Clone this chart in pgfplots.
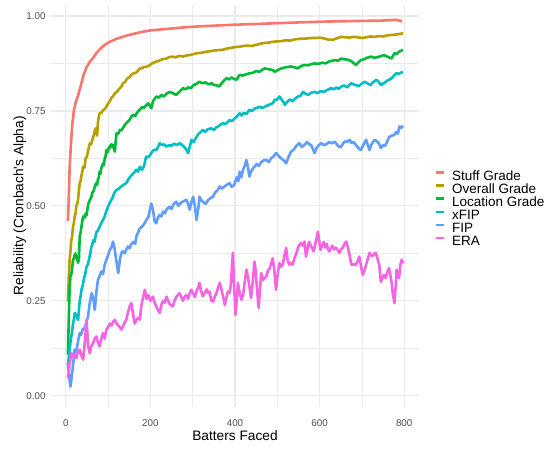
\documentclass[border=0pt]{standalone}
\usepackage{fontspec}
\setmainfont{Liberation Sans}
\usepackage{pgfplots}
\pgfplotsset{compat=1.18}
\definecolor{cStuff}{HTML}{F8766D}
\definecolor{cOver}{HTML}{B79F00}
\definecolor{cLoc}{HTML}{00BA38}
\definecolor{cxfip}{HTML}{00BFC4}
\definecolor{cfip}{HTML}{619CFF}
\definecolor{cera}{HTML}{F564E3}
\definecolor{grid92}{HTML}{EBEBEB}
\definecolor{grey30}{HTML}{4D4D4D}
\begin{document}
\begin{tikzpicture}
\useasboundingbox (0pt,0pt) rectangle (552pt,452pt);
\begin{axis}[
  at={(51pt,44.9pt)}, anchor=south west,
  scale only axis, width=368pt, height=402.5pt,
  xmin=-35, xmax=835, ymin=-0.03, ymax=1.03,
  axis line style={draw=none},
  major tick length=0pt, minor tick length=0pt,
  xtick={0,200,400,600,800}, xticklabels={0,200,400,600,800},
  minor xtick={100,300,500,700},
  ytick={0,0.25,0.5,0.75,1}, yticklabels={0.00,0.25,0.50,0.75,1.00},
  minor ytick={0.125,0.375,0.625,0.875},
  grid=both,
  major grid style={color=grid92, line width=1.2pt},
  minor grid style={color=grid92, line width=0.6pt},
  xticklabel style={anchor=north, inner sep=0pt, yshift=-12.2pt, font=\fontsize{9.8}{11}\selectfont, text=grey30},
  yticklabel style={anchor=east, inner sep=0pt, xshift=-5.3pt, font=\fontsize{9.8}{11}\selectfont, text=grey30},
  xlabel={Batters Faced},
  xlabel style={at={(axis description cs:0.5,-0.0835)}, anchor=base, inner sep=0pt, font=\fontsize{13.7}{15}\selectfont},
  ylabel={Reliability (Cronbach\textquotesingle s Alpha)},
  ylabel style={at={(axis description cs:-0.085,0.5)}, anchor=center, inner sep=0pt, font=\fontsize{13.7}{15}\selectfont},
  every axis plot/.append style={line width=2.6pt, line join=round},
  legend image code/.code={\draw[#1] (0pt,4.8pt) -- (8pt,4.8pt);},
  legend style={at={(1.0435,0.4894)}, anchor=west, draw=none, fill=none, inner sep=0pt, row sep=0pt,
    nodes={inner sep=0pt, anchor=west, text height=9.6pt, text depth=3.46pt, font=\fontsize{13.5}{15}\selectfont},
    /tikz/every odd column/.append style={column sep=6.3pt}},
  legend cell align=left,
]
\addplot[cStuff] coordinates {
(5,0.46)(7,0.52)(9,0.60)(12,0.66)(15,0.71)(19,0.75)(24,0.775)(29,0.79)(35,0.815)(42,0.845)
(49,0.865)(57,0.88)(65,0.89)(72,0.902)(80,0.912)(90,0.922)(100,0.93)(120,0.94)(140,0.947)
(160,0.953)(180,0.958)(200,0.962)(240,0.966)(280,0.970)(320,0.973)(360,0.975)(400,0.977)
(450,0.979)(500,0.981)(550,0.983)(600,0.985)(650,0.986)(700,0.987)(750,0.988)(780,0.990)(795,0.986)
};
\addlegendentry{Stuff Grade}
\addplot[cOver] coordinates {
(5,0.248)(7,0.31)(9,0.358)(11,0.38)(13,0.41)(15,0.42)(17,0.445)(19,0.455)(21,0.472)(23,0.48)
(25,0.50)(27,0.505)(29,0.516)(31,0.54)(33,0.56)(35,0.565)(37,0.58)(39,0.59)(41,0.603)(44,0.60)
(47,0.625)(50,0.63)(53,0.647)(57,0.665)(60,0.662)(63,0.675)(66,0.685)(69,0.70)(72,0.705)(74,0.685)
(76,0.72)(78,0.735)(80,0.744)(84,0.745)(88,0.752)(92,0.755)(96,0.761)(100,0.77)(104,0.775)(108,0.785)
(111,0.788)(115,0.795)(120,0.80)(124,0.805)(128,0.81)(132,0.815)(135,0.823)(140,0.826)(145,0.835)
(150,0.838)(155,0.845)(160,0.849)(165,0.85)(170,0.855)(175,0.862)(180,0.862)(185,0.866)(190,0.866)
(198,0.87)(205,0.876)(214,0.88)(220,0.882)(228,0.886)(238,0.888)(245,0.892)(253,0.893)(260,0.891)
(268,0.895)(277,0.893)(285,0.896)(293,0.897)(300,0.899)(310,0.902)(320,0.903)(332,0.906)(340,0.907)
(350,0.909)(360,0.91)(371,0.911)(380,0.914)(390,0.916)(400,0.918)(411,0.919)(420,0.921)(430,0.922)
(440,0.921)(450,0.924)(460,0.927)(470,0.929)(480,0.93)(489,0.932)(500,0.933)(510,0.934)(520,0.936)
(530,0.935)(540,0.938)(552,0.94)(560,0.94)(572,0.941)(580,0.942)(590,0.942)(600,0.943)(610,0.941)
(620,0.938)(631,0.937)(640,0.941)(651,0.945)(660,0.944)(670,0.943)(680,0.945)(690,0.944)(700,0.942)
(710,0.944)(720,0.946)(730,0.945)(740,0.947)(750,0.946)(760,0.949)(770,0.950)(780,0.951)(790,0.953)(797,0.954)
};
\addlegendentry{Overall Grade}
\addplot[cLoc] coordinates {
(5,0.108)(7,0.20)(9,0.28)(11,0.314)(13,0.32)(15,0.335)(17,0.358)(19,0.36)(21,0.37)(23,0.375)
(25,0.365)(27,0.36)(29,0.35)(31,0.36)(33,0.42)(35,0.43)(37,0.445)(39,0.46)(41,0.472)(43,0.468)
(45,0.47)(47,0.48)(49,0.475)(51,0.49)(53,0.505)(55,0.51)(57,0.516)(60,0.522)(63,0.535)(66,0.54)
(69,0.552)(72,0.56)(74,0.555)(76,0.57)(78,0.575)(80,0.59)(82,0.585)(84,0.60)(86,0.605)(88,0.612)
(90,0.607)(92,0.625)(94,0.63)(96,0.647)(98,0.64)(100,0.645)(102,0.655)(104,0.652)(106,0.66)(108,0.662)
(110,0.655)(112,0.66)(114,0.65)(116,0.643)(118,0.67)(120,0.691)(124,0.69)(128,0.70)(131,0.698)
(135,0.705)(139,0.712)(143,0.718)(147,0.722)(150,0.725)(155,0.735)(160,0.74)(164,0.736)(168,0.745)
(172,0.75)(175,0.753)(180,0.76)(185,0.758)(190,0.765)(195,0.77)(202,0.757)(206,0.775)(210,0.782)
(214,0.788)(220,0.785)(226,0.792)(232,0.788)(238,0.795)(245,0.80)(250,0.798)(256,0.795)(261,0.792)
(268,0.80)(277,0.81)(283,0.807)(290,0.812)(296,0.81)(302,0.818)(310,0.822)(316,0.827)(322,0.823)
(330,0.825)(338,0.82)(345,0.823)(350,0.818)(356,0.818)(362,0.814)(368,0.822)(374,0.83)(380,0.836)
(386,0.833)(392,0.838)(398,0.834)(403,0.832)(411,0.845)(418,0.843)(425,0.846)(434,0.849)(442,0.85)
(450,0.855)(458,0.853)(464,0.858)(470,0.862)(478,0.86)(489,0.858)(494,0.853)(502,0.858)(510,0.862)
(520,0.865)(533,0.867)(540,0.865)(548,0.862)(556,0.868)(564,0.871)(572,0.87)(580,0.873)(588,0.875)
(598,0.874)(606,0.877)(614,0.875)(622,0.88)(630,0.882)(636,0.884)(644,0.882)(651,0.888)(658,0.886)
(666,0.885)(674,0.882)(680,0.876)(686,0.871)(692,0.878)(698,0.884)(705,0.886)(712,0.89)(722,0.893)
(730,0.89)(738,0.892)(746,0.895)(753,0.897)(760,0.893)(766,0.89)(770,0.888)(774,0.896)(777,0.902)
(782,0.900)(788,0.906)(797,0.911)
};
\addlegendentry{Location Grade}
\addplot[cxfip] coordinates {
(5,0.08)(7,0.10)(9,0.12)(11,0.14)(13,0.156)(15,0.17)(17,0.19)(19,0.20)(21,0.218)(23,0.215)
(25,0.21)(27,0.205)(29,0.20)(31,0.225)(33,0.25)(35,0.262)(37,0.279)(40,0.29)(43,0.31)(46,0.32)
(49,0.34)(52,0.345)(55,0.36)(58,0.375)(60,0.39)(62,0.395)(65,0.41)(68,0.405)(72,0.43)(76,0.435)
(80,0.445)(84,0.455)(88,0.463)(91,0.47)(94,0.48)(97,0.49)(100,0.498)(105,0.51)(110,0.52)(115,0.535)
(120,0.542)(125,0.545)(130,0.55)(136,0.555)(143,0.56)(149,0.572)(155,0.58)(161,0.587)(167,0.595)
(171,0.59)(175,0.603)(180,0.595)(185,0.605)(190,0.63)(195,0.628)(200,0.635)(206,0.645)(210,0.648)
(214,0.647)(218,0.655)(222,0.665)(227,0.66)(232,0.662)(238,0.656)(244,0.66)(250,0.658)(256,0.664)
(262,0.66)(269,0.665)(275,0.66)(280,0.655)(285,0.648)(289,0.639)(293,0.655)(297,0.674)(302,0.668)
(308,0.68)(314,0.69)(320,0.695)(324,0.70)(330,0.695)(336,0.702)(344,0.704)(350,0.70)(356,0.707)
(360,0.709)(366,0.714)(371,0.718)(377,0.715)(382,0.72)(387,0.726)(393,0.723)(399,0.73)(405,0.736)
(411,0.744)(416,0.738)(421,0.745)(427,0.742)(434,0.753)(440,0.75)(446,0.756)(452,0.758)(458,0.761)
(465,0.758)(472,0.762)(478,0.765)(484,0.768)(489,0.77)(494,0.779)(500,0.78)(505,0.788)(510,0.78)
(514,0.774)(518,0.766)(524,0.775)(530,0.78)(536,0.775)(542,0.782)(549,0.788)(555,0.79)(561,0.80)
(567,0.795)(573,0.792)(580,0.798)(588,0.80)(595,0.797)(602,0.802)(610,0.80)(618,0.805)(627,0.81)
(634,0.807)(640,0.812)(645,0.808)(651,0.814)(658,0.817)(665,0.812)(670,0.818)(675,0.823)(680,0.82)
(686,0.818)(692,0.815)(700,0.822)(707,0.827)(714,0.822)(720,0.818)(727,0.826)(734,0.832)(740,0.826)
(745,0.818)(752,0.823)(758,0.828)(764,0.832)(770,0.836)(775,0.842)(781,0.849)(788,0.848)(797,0.853)
};
\addlegendentry{xFIP}
\addplot[cfip] coordinates {
(5,0.086)(8,0.05)(11,0.024)(13,0.04)(15,0.06)(18,0.09)(21,0.121)(24,0.115)(27,0.13)(30,0.15)
(33,0.165)(36,0.16)(40,0.175)(45,0.178)(49,0.195)(52.7,0.209)(56,0.24)(61,0.27)(65,0.255)(68.5,0.226)
(72,0.27)(76,0.305)(80,0.315)(84,0.327)(88,0.32)(92,0.345)(96,0.358)(100,0.37)(104,0.384)(108,0.39)
(111.5,0.406)(115,0.39)(118,0.366)(121,0.345)(124,0.323)(128,0.36)(131.5,0.376)(135,0.38)(139,0.375)
(143,0.385)(147,0.393)(151,0.388)(155,0.40)(160,0.405)(164,0.40)(167,0.42)(171,0.43)(175,0.441)
(180,0.445)(185,0.452)(190.5,0.463)(195,0.47)(198,0.485)(202,0.506)(206,0.49)(210,0.459)(214,0.454)
(218,0.47)(222,0.476)(226,0.472)(230,0.485)(234,0.48)(238,0.49)(242,0.495)(245.5,0.498)(250,0.492)
(255,0.505)(261,0.511)(266,0.50)(272,0.508)(278,0.512)(285,0.516)(289,0.505)(293,0.49)(297,0.51)
(301,0.524)(305,0.50)(309,0.463)(313,0.49)(316,0.524)(320,0.515)(325,0.51)(331,0.505)(336,0.515)
(342,0.52)(348,0.524)(353,0.535)(358,0.54)(364,0.551)(369,0.545)(374,0.55)(380,0.555)(387,0.56)
(392,0.55)(398,0.555)(404,0.575)(408,0.565)(411,0.59)(415,0.575)(419,0.595)(423,0.605)(427,0.621)
(431,0.60)(434,0.577)(438,0.59)(442,0.598)(446,0.603)(451,0.61)(456,0.605)(462,0.615)(468,0.62)
(474,0.621)(480,0.615)(485,0.625)(491,0.63)(497,0.639)(503,0.632)(509,0.625)(515,0.62)(521,0.612)
(527,0.63)(533,0.643)(539,0.648)(545,0.658)(552,0.665)(558,0.655)(564,0.66)(570,0.668)(576,0.662)
(580,0.66)(584,0.65)(588,0.639)(593,0.652)(598,0.66)(604,0.665)(610,0.66)(616,0.662)(622,0.668)
(629,0.665)(636,0.669)(642,0.66)(647,0.655)(651,0.656)(656,0.665)(661,0.67)(666,0.668)(671,0.674)
(676,0.665)(681,0.668)(686,0.66)(692,0.652)(698,0.647)(703,0.66)(707,0.668)(710,0.674)(714,0.66)
(718,0.647)(722,0.66)(726,0.668)(730,0.674)(735,0.67)(740,0.665)(745,0.652)(750,0.66)(755,0.658)
(760,0.67)(765,0.682)(771,0.685)(777,0.687)(781,0.695)(785,0.69)(789,0.709)(793,0.705)(797,0.711)
};
\addlegendentry{FIP}
\addplot[cera] coordinates {
(5,0.046)(9,0.085)(13.4,0.112)(17,0.10)(21,0.108)(25,0.099)(29,0.115)(33,0.121)(37,0.105)(41,0.095)
(45,0.14)(49,0.2)(53,0.13)(56.7,0.112)(60,0.13)(64.5,0.138)(68,0.15)(72.5,0.156)(76,0.14)(80,0.13)
(84,0.15)(88,0.165)(92,0.15)(96,0.175)(100,0.18)(104,0.19)(108,0.185)(112,0.195)(116,0.2)(120,0.19)
(124,0.185)(128,0.18)(131.5,0.174)(136,0.185)(140,0.195)(143,0.2)(147,0.22)(151,0.235)(155,0.244)
(159,0.215)(163,0.19)(167,0.2)(171,0.205)(175,0.2)(179,0.24)(183,0.26)(187,0.279)(191,0.255)
(195,0.265)(200,0.25)(206,0.261)(210,0.245)(214,0.235)(218,0.225)(222,0.218)(226,0.24)(230,0.25)
(234,0.245)(238,0.261)(242,0.25)(246,0.24)(250,0.238)(253,0.235)(257,0.25)(261,0.26)(265,0.265)
(269,0.27)(273,0.26)(277,0.25)(281,0.26)(285,0.265)(289,0.255)(293,0.27)(297,0.279)(301,0.27)
(305,0.26)(309,0.275)(313,0.285)(316,0.297)(320,0.275)(324,0.262)(328,0.27)(333,0.28)(337,0.27)
(340,0.274)(344,0.25)(348,0.248)(352,0.26)(356,0.27)(360,0.285)(364,0.297)(368,0.28)(372,0.26)
(376,0.239)(380,0.26)(383,0.274)(387,0.27)(390,0.29)(393,0.34)(395,0.376)(398,0.29)(401,0.213)
(404,0.25)(407,0.297)(411,0.27)(415,0.253)(419,0.265)(423,0.3)(427,0.332)(431,0.31)(435,0.28)
(438,0.257)(442,0.3)(446,0.353)(449,0.33)(452,0.28)(456,0.231)(459,0.28)(462,0.323)(466,0.305)
(470,0.31)(474,0.314)(478,0.33)(482,0.335)(486,0.35)(489,0.362)(493,0.33)(497,0.279)(501,0.32)
(505,0.349)(509,0.34)(513,0.345)(517,0.37)(521,0.389)(524,0.36)(528,0.345)(532,0.35)(536,0.345)
(540,0.36)(545,0.375)(549,0.39)(552,0.397)(556,0.402)(560,0.395)(564,0.406)(568,0.366)(572,0.39)
(575,0.405)(579,0.395)(582,0.39)(586,0.38)(590,0.4)(594,0.42)(596,0.432)(599,0.41)(602,0.384)
(606,0.395)(610,0.405)(613,0.39)(617,0.40)(620,0.385)(623,0.38)(627,0.39)(630,0.395)(634,0.385)
(638,0.39)(642,0.385)(647,0.376)(651,0.385)(655,0.39)(659,0.40)(663,0.406)(667,0.39)(671,0.37)
(675,0.345)(680,0.346)(686,0.345)(690,0.355)(694,0.366)(698,0.34)(702,0.318)(706,0.33)(710,0.345)
(714,0.36)(718,0.376)(722,0.37)(726,0.368)(730,0.375)(733,0.376)(737,0.36)(741,0.345)(745,0.30)
(749,0.31)(752,0.318)(756,0.31)(760,0.325)(764,0.336)(767,0.32)(770,0.30)(773,0.27)(777,0.244)
(780,0.29)(782,0.332)(785,0.315)(788,0.31)(791,0.345)(794,0.358)(798,0.349)
};
\addlegendentry{ERA}
\end{axis}
\end{tikzpicture}
\end{document}
